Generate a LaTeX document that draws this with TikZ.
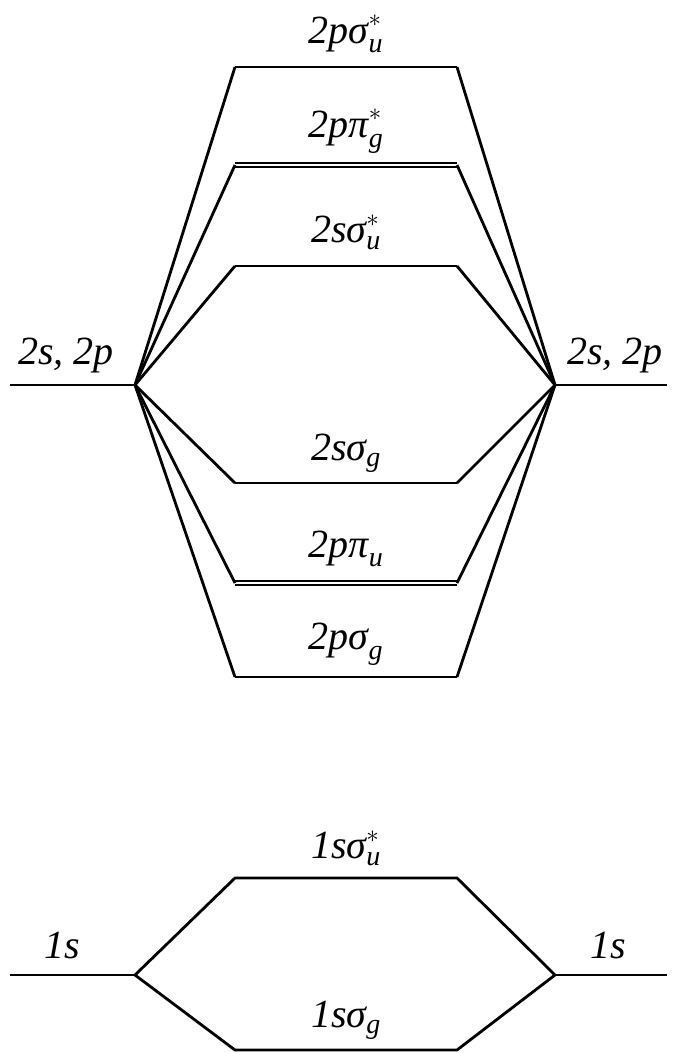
\documentclass[tikz,border=0pt]{standalone}
\usepackage{amsmath}
\usepackage{fontspec}
\setmainfont{Liberation Serif}
\newcommand{\mo}[3]{$\textit{#1}_{\textit{#2}}^{#3}$}

\begin{document}
\begin{tikzpicture}[x=1pt,y=-1pt,line width=2.8pt,
    every node/.style={font=\fontsize{40}{44}\selectfont\itshape,inner sep=0pt},
    pilevel/.style={double,double distance=1.2pt,line width=2.2pt}]
  \useasboundingbox (0,0) rectangle (679,1053);
  % atomic levels, n=2
  \coordinate (l2a) at (10,385);  \coordinate (l2) at (135,385);
  \coordinate (r2) at (555,385);  \coordinate (r2a) at (667,385);
  \draw (l2a) -- (l2);
  \draw (r2) -- (r2a);
  \node (l2lab) at (66,356) {2s, 2p};
  \node (r2lab) at (615,356) {2s, 2p};
  % molecular levels, n=2
  \coordinate (su2pl) at (235,67);  \coordinate (su2pr) at (457,67);
  \coordinate (pg2pl) at (235,165); \coordinate (pg2pr) at (457,165);
  \coordinate (su2sl) at (235,266); \coordinate (su2sr) at (457,266);
  \coordinate (sg2sl) at (235,483); \coordinate (sg2sr) at (457,483);
  \coordinate (pu2pl) at (235,583); \coordinate (pu2pr) at (457,583);
  \coordinate (sg2pl) at (235,677); \coordinate (sg2pr) at (457,677);
  \draw (su2pl) -- (su2pr);
  \draw[pilevel] (pg2pl) -- (pg2pr);
  \draw (su2sl) -- (su2sr);
  \draw (sg2sl) -- (sg2sr);
  \draw[pilevel] (pu2pl) -- (pu2pr);
  \draw (sg2pl) -- (sg2pr);
  \node (su2plab) at (346,34)  {\mo{2pσ}{u}{*}};
  \node (pg2plab) at (346,131) {\mo{2pπ}{g}{*}};
  \node (su2slab) at (346,232) {\mo{2sσ}{u}{*}};
  \node (sg2slab) at (346,453) {\mo{2sσ}{g}{}};
  \node (pu2plab) at (346,549) {\mo{2pπ}{u}{}};
  \node (sg2plab) at (346,644) {\mo{2pσ}{g}{}};
  \foreach \m in {su2p,pg2p,su2s,sg2s,pu2p,sg2p}
    \draw (l2) -- (\m l) (\m r) -- (r2);
  % n=1
  \coordinate (l1a) at (10,975);  \coordinate (l1) at (135,975);
  \coordinate (r1) at (555,975);  \coordinate (r1a) at (667,975);
  \coordinate (su1sl) at (235,878);  \coordinate (su1sr) at (457,878);
  \coordinate (sg1sl) at (235,1050); \coordinate (sg1sr) at (457,1050);
  \draw (l1a) -- (l1);
  \draw (r1) -- (r1a);
  \draw (l1) -- (su1sl) -- (su1sr) -- (r1);
  \draw (l1) -- (sg1sl) -- (sg1sr) -- (r1);
  \node (l1lab) at (62,945)  {1s};
  \node (r1lab) at (608,945) {1s};
  \node (su1slab) at (346,848)  {\mo{1sσ}{u}{*}};
  \node (sg1slab) at (346,1020) {\mo{1sσ}{g}{}};
\end{tikzpicture}
\end{document}
